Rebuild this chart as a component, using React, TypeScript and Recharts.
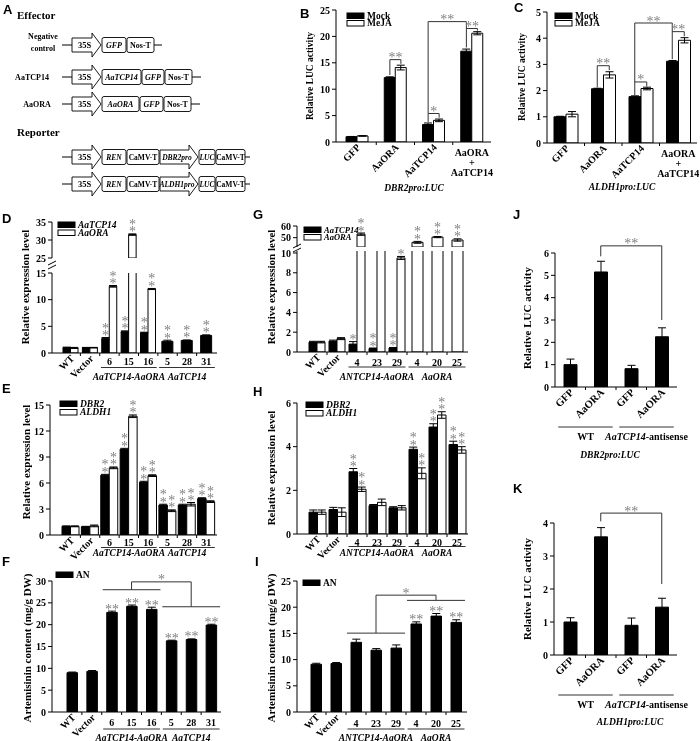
import React from 'react';
import { BarChart, Bar, XAxis, YAxis, ErrorBar, LabelList, ReferenceLine } from 'recharts';

const SERIF = '"Liberation Serif", "Times New Roman", serif';
const SANS = '"Liberation Sans", Arial, sans-serif';
const STAR = '#808080';
const LINE = '#333';

// B / C : transient LUC assays
const luCats = ['GFP', 'AaORA', 'AaTCP14', 'AaORA+AaTCP14'];
const bMock = [1.0, 12.2, 3.3, 17.2];
const bMockErr = [0.05, 0.15, 0.3, 0.4];
const bMeja = [1.15, 14.1, 4.1, 20.6];
const bMejaErr = [0.05, 0.45, 0.25, 0.3];
const cMock = [1.0, 2.07, 1.77, 3.12];
const cMockErr = [0.02, 0.02, 0.03, 0.03];
const cMeja = [1.1, 2.6, 2.08, 3.92];
const cMejaErr = [0.1, 0.12, 0.05, 0.1];

// D / E / F : overexpression lines
const ovCats = ['WT', 'Vector', '6', '15', '16', '5', '28', '31'];
const dTcp = [1.0, 1.0, 2.7, 4.0, 3.8, null, null, null];
const dTcpErr = [0.1, 0.05, 0.2, 0.15, 0.1, null, null, null];
const dOra = [0.95, 1.0, 12.5, 31.5, 12.0, null, null, null];
const dOraErr = [0.1, 0.05, 0.15, 0.2, 0.1, null, null, null];
const dTcpOnly = [null, null, null, null, null, 2.2, 2.35, 3.3];
const dTcpOnlyErr = [null, null, null, null, null, 0.2, 0.1, 0.1];
const dPairStars = ['', '', '**', '**', '**', '', '', ''];
const dOnlyStars = ['', '', '', '', '', '**', '**', '**'];

const eDbr2 = [1.0, 0.95, 6.9, 9.9, 6.1, 3.45, 3.45, 4.2];
const eDbr2Err = [0.05, 0.05, 0.1, 0.1, 0.1, 0.1, 0.1, 0.1];
const eAldh1 = [1.0, 1.05, 7.75, 13.7, 6.85, 2.8, 3.55, 3.85];
const eAldh1Err = [0.05, 0.1, 0.1, 0.15, 0.1, 0.1, 0.2, 0.1];
const eStars = ['', '', '**', '**', '**', '**', '**', '**'];

const fAn = [9.0, 9.3, 22.8, 24.2, 23.5, 16.3, 16.6, 19.9];
const fAnErr = [0.15, 0.2, 0.3, 0.3, 0.5, 0.15, 0.15, 0.2];
const fStars = ['', '', '**', '**', '**', '**', '**', '**'];

// G / H / I : antisense lines
const asCats = ['WT', 'Vector', '4', '23', '29', '4', '20', '25'];
const gTcp = [1.0, 1.1, 0.8, 0.35, 0.4, null, null, null];
const gTcpErr = [0.08, 0.1, 0.25, 0.05, 0.05, null, null, null];
const gTcpStars = ['', '', '*', '**', '**', '', '', ''];
const gOra = [1.0, 1.35, 53, 10.4, 9.5, null, null, null];
const gOraErr = [0.08, 0.1, 1.0, 0.3, 0.15, null, null, null];
const gOraStars = ['', '', '**', '**', '*', '', '', ''];
const gOraOnly = [null, null, null, null, null, 46, 50.5, 48];
const gOraOnlyErr = [null, null, null, null, null, 0.8, 0.5, 1.0];
const gOnlyStars = ['', '', '', '', '', '**', '**', '**'];

const hDbr2 = [1.0, 1.12, 2.85, 1.3, 1.2, 3.88, 4.9, 4.1];
const hDbr2Err = [0.1, 0.1, 0.15, 0.05, 0.05, 0.1, 0.15, 0.15];
const hAldh1 = [1.0, 1.0, 2.05, 1.45, 1.2, 2.78, 5.45, 3.85];
const hAldh1Err = [0.1, 0.2, 0.1, 0.15, 0.1, 0.25, 0.15, 0.15];
const hStars = ['', '', '**', '', '', '**', '**', '**'];

const iAn = [9.1, 9.25, 13.3, 11.8, 12.2, 16.8, 18.3, 17.1];
const iAnErr = [0.2, 0.2, 0.6, 0.3, 0.6, 0.4, 0.5, 0.5];
const iStars = ['', '', '', '', '', '**', '**', '**'];

// J / K : antisense LUC assays
const antiCats = ['GFP', 'AaORA', 'GFP', 'AaORA'];
const jLuc = [1.0, 5.15, 0.82, 2.25];
const jLucErr = [0.25, 0.48, 0.15, 0.4];
const kLuc = [1.0, 3.58, 0.9, 1.45];
const kLucErr = [0.13, 0.28, 0.22, 0.27];

type Num = number | null;
type Ser = { key: string; vals: Num[]; errs?: Num[]; stars?: string[]; fill: string; size: number; solo?: boolean; starMode?: 'v' | 'h' };
type Grp = { a: number; b: number; label: React.ReactNode };
// segment between two categories; da/db shift the ends sideways onto a bar of the pair
type Seg = { a: number; da: number; ya: number; b: number; db: number; yb: number; star?: string };

const br = (a: number, da: number, ya: number, b: number, db: number, yb: number, top: number, star: string): Seg[] => [
  { a, da, ya, b: a, db: da, yb: top },
  { a, da, ya: top, b, db, yb: top, star },
  { a: b, da: db, ya: top, b, db, yb },
];
const hline = (a: number, b: number, y: number, ext: number): Seg => ({ a, da: -ext, ya: y, b, db: ext, yb: y });

const makeTick = (cats: string[], numDy: number, fs: number) => (props: any) => {
  const { x, y, payload } = props;
  const i = Number(String(payload.value).slice(1));
  const lab = cats[i] ?? '';
  const st = { fontFamily: SERIF, fontWeight: 700, fontSize: fs, fill: '#000' };
  if (lab.includes('+')) {
    const [a, b] = lab.split('+');
    return (
      <text x={x} y={y} textAnchor="middle" {...st}>
        <tspan x={x} dy={14}>{a}</tspan>
        <tspan x={x} dy={10}>+</tspan>
        <tspan x={x} dy={10}>{b}</tspan>
      </text>
    );
  }
  if (/^\d+$/.test(lab)) return <text x={x} y={y + numDy} textAnchor="middle" {...st}>{lab}</text>;
  const ax = x + 4, ay = y + 6;
  return <text x={ax} y={ay} textAnchor="end" transform={`rotate(-45 ${ax} ${ay})`} {...st}>{lab}</text>;
};

const starContent = (ppu: number, mode: 'v' | 'h') => (props: any) => {
  const val = props.value;
  if (!val || typeof val !== 'string') return null;
  const vb = props.viewBox || {};
  const x = Number(vb.x ?? props.x), y = Number(vb.y ?? props.y), w = Number(vb.width ?? props.width);
  if (!isFinite(x) || !isFinite(y)) return null;
  const [st, es] = val.split('|');
  const top = y - Number(es) * ppu - 1.5;
  const cx = x + w / 2;
  const f = { fontFamily: SERIF, fontSize: 14, fill: STAR, textAnchor: 'middle' as const };
  if (mode === 'h') return <text x={cx} y={top + 4} {...f}>{st}</text>;
  return (
    <g>
      {st.split('').map((c, k) => <text key={k} x={cx} y={top + 4 - k * 7.5} {...f}>{c}</text>)}
    </g>
  );
};

const segLabel = (t: string, dx: number) => (props: any) => {
  const vb = props.viewBox || {};
  const cx = Number(vb.x) + Number(vb.width || 0) / 2 + dx;
  return <text x={cx} y={Number(vb.y) + 2.5} textAnchor="middle" fontFamily={SERIF} fontSize={14} fill={STAR}>{t}</text>;
};

const groupLabel = (label: React.ReactNode, dy: number, fs: number) => (props: any) => {
  const vb = props.viewBox || {};
  const cx = Number(vb.x) + Number(vb.width || 0) / 2;
  return <text x={cx} y={Number(vb.y) + dy} textAnchor="middle" fontFamily={SERIF} fontWeight={700} fontSize={fs} fill="#000">{label}</text>;
};

const shifted = (da: number, db: number, stroke = LINE) => (sp: any) => (
  <line x1={Number(sp.x1) + da} y1={sp.y1} x2={Number(sp.x2) + db} y2={sp.y2} stroke={stroke} strokeWidth={1} />
);

type PanelProps = {
  x0: number; y0: number; x1: number; y1: number;
  padL: number; padR: number; padT: number; padB: number;
  bandL: number; bandR: number;
  cats: string[]; series: Ser[]; domain: [number, number]; ticks: number[];
  showX?: boolean; numDy?: number; rotFs?: number;
  groups?: Grp[]; gLine?: number; gText?: number; gFs?: number; gExt?: number;
  segs?: Seg[];
};

function Panel(p: PanelProps) {
  const showX = p.showX !== false;
  const [lo, hi] = p.domain;
  const ppu = (p.y1 - p.y0) / (hi - lo);
  const W = p.x1 - p.x0 + p.padL + p.padR;
  const H = p.y1 - p.y0 + p.padT + p.padB;
  const rows = p.cats.map((_, i) => {
    const r: Record<string, any> = { name: 'k' + i };
    p.series.forEach((s) => {
      const v = s.vals[i];
      const inside = v != null && v > lo;
      const shown = inside && (v as number) <= hi;
      const e = s.errs ? s.errs[i] : null;
      const st = s.stars ? s.stars[i] : '';
      r[s.key] = inside ? v : null;
      r[s.key + 'E'] = shown && e != null ? e : null;
      r[s.key + 'L'] = shown && st ? `${st}|${e ?? 0}` : null;
    });
    return r;
  });
  const minor = p.ticks.slice(1).map((t, k) => (t + p.ticks[k]) / 2);
  const pad = { left: p.bandL, right: p.bandR };
  const gy = lo - (p.gLine ?? 14) / ppu;
  const ext = p.gExt ?? 8.5;
  const bounds = showX ? p.cats.slice(1).map((_, k) => k + 1) : [];
  return (
    <div style={{ position: 'absolute', left: p.x0 - p.padL, top: p.y0 - p.padT }}>
      <BarChart width={W} height={H} data={rows} barGap={0} barCategoryGap={0}
        margin={{ top: p.padT, right: p.padR, left: 0, bottom: showX ? 0 : p.padB }}>
        <XAxis xAxisId="c" dataKey="name" hide={!showX} height={p.padB} interval={0} padding={pad}
          axisLine={{ stroke: '#000', strokeWidth: 1 }} tickLine={false} tickSize={0} tickMargin={0}
          tick={makeTick(p.cats, p.numDy ?? 12, p.rotFs ?? 10)} />
        <XAxis xAxisId="s" dataKey="name" hide padding={pad} />
        <YAxis yAxisId="m" width={0} domain={p.domain} ticks={minor} allowDataOverflow interval={0}
          axisLine={false} tickLine={{ stroke: '#000' }} tickSize={2.5} tick={false} />
        <YAxis width={p.padL} domain={p.domain} ticks={p.ticks} allowDataOverflow interval={0}
          axisLine={{ stroke: '#000', strokeWidth: 1 }} tickLine={{ stroke: '#000' }} tickSize={4} tickMargin={2}
          tick={{ fontFamily: SERIF, fontWeight: 700, fontSize: 10, fill: '#000' }} />
        {p.series.map((s) => (
          <Bar key={s.key} xAxisId={s.solo ? 's' : 'c'} dataKey={s.key} fill={s.fill} stroke="#000" strokeWidth={1}
            barSize={s.size} isAnimationActive={false}>
            <ErrorBar dataKey={s.key + 'E'} width={4} stroke="#000" strokeWidth={1} direction="y" />
            <LabelList dataKey={s.key + 'L'} content={starContent(ppu, s.starMode ?? 'v')} />
          </Bar>
        ))}
        {bounds.map((i) => (
          <ReferenceLine key={'t' + i} xAxisId="c" position="start" ifOverflow="visible"
            segment={[{ x: 'k' + i, y: lo }, { x: 'k' + i, y: lo - 3 / ppu }]}
            shape={shifted(0, 0, '#000')} />
        ))}
        {(p.groups ?? []).map((g, k) => (
          <ReferenceLine key={'g' + k} xAxisId="c" position="middle" ifOverflow="visible"
            segment={[{ x: 'k' + g.a, y: gy }, { x: 'k' + g.b, y: gy }]}
            shape={shifted(-ext, ext)}
            label={groupLabel(g.label, p.gText ?? 12, p.gFs ?? 9.5)} />
        ))}
        {(p.segs ?? []).map((s, k) => (
          <ReferenceLine key={'s' + k} xAxisId="c" position="middle" ifOverflow="visible"
            segment={[{ x: 'k' + s.a, y: s.ya }, { x: 'k' + s.b, y: s.yb }]}
            shape={shifted(s.da, s.db)}
            label={s.star ? segLabel(s.star, (s.da + s.db) / 2) : undefined} />
        ))}
      </BarChart>
    </div>
  );
}

const it = (s: string) => <tspan fontStyle="italic">{s}</tspan>;

function Diagram() {
  type Part = { w: number; t: string; i?: boolean; arrow?: boolean; fs?: number };
  const row = (y: number, parts: Part[], tail: number) => {
    let x = 72;
    const els: React.ReactNode[] = [<line key="l0" x1={62} y1={y} x2={72} y2={y} stroke="#000" />];
    parts.forEach((pt, k) => {
      const f = { fontFamily: SERIF, fontWeight: 700, fontSize: pt.fs ?? 8, fill: '#000', fontStyle: pt.i ? 'italic' : 'normal' };
      if (pt.arrow) {
        const b = x + pt.w - 9;
        els.push(<polygon key={'p' + k} points={`${x},${y - 7} ${b},${y - 7} ${b},${y - 12} ${x + pt.w},${y} ${b},${y + 12} ${b},${y + 7} ${x},${y + 7}`} fill="#fff" stroke="#000" strokeWidth={0.9} />);
        els.push(<text key={'t' + k} x={x + pt.w / 2 - 2} y={y + 3} textAnchor="middle" {...f}>{pt.t}</text>);
      } else {
        els.push(<rect key={'r' + k} x={x} y={y - 7.5} width={pt.w} height={15} rx={2} fill="#fff" stroke="#000" strokeWidth={0.9} />);
        els.push(<text key={'t' + k} x={x + pt.w / 2} y={y + 3} textAnchor="middle" {...f}>{pt.t}</text>);
      }
      x += pt.w + 1;
    });
    els.push(<line key="l1" x1={x - 1} y1={y} x2={x - 1 + tail} y2={y} stroke="#000" />);
    return <g>{els}</g>;
  };
  const lab = { fontFamily: SERIF, fontWeight: 700, fontSize: 8, fill: '#000' };
  const p35 = { w: 29, t: '35S', arrow: true, fs: 8.5 };
  const rep = (pro: string) => [p35, { w: 24, t: 'REN', i: true, fs: 7.5 }, { w: 32, t: 'CaMV-T', fs: 7.5 },
    { w: 38, t: pro, i: true, arrow: true, fs: 7.5 }, { w: 16, t: 'LUC', i: true, fs: 7.5 }, { w: 29, t: 'CaMV-T', fs: 7.5 }];
  return (
    <g>
      <text x={17} y={19} fontFamily={SERIF} fontWeight={700} fontSize={11}>Effector</text>
      <text x={43} y={39} textAnchor="middle" {...lab}>Negative</text>
      <text x={43} y={51} textAnchor="middle" {...lab}>control</text>
      {row(45, [p35, { w: 24, t: 'GFP', i: true }, { w: 27, t: 'Nos-T' }], 8)}
      <text x={32} y={80} textAnchor="middle" {...lab}>AaTCP14</text>
      {row(77, [p35, { w: 39, t: 'AaTCP14', i: true }, { w: 22, t: 'GFP', i: true }, { w: 27, t: 'Nos-T' }], 9)}
      <text x={37} y={107} textAnchor="middle" {...lab}>AaORA</text>
      {row(104, [p35, { w: 37, t: 'AaORA', i: true }, { w: 23, t: 'GFP', i: true }, { w: 27, t: 'Nos-T' }], 9)}
      <text x={17} y={136} fontFamily={SERIF} fontWeight={700} fontSize={11}>Reporter</text>
      {row(157, rep('DBR2pro'), 5)}
      {row(184, rep('ALDH1pro'), 5)}
    </g>
  );
}

function Overlay() {
  const letter = (x: number, y: number, t: string) => (
    <text x={x} y={y} fontFamily={SANS} fontWeight={700} fontSize={13} fill="#000">{t}</text>
  );
  const vt = (x: number, y: number, t: string, fs: number) => (
    <text x={x} y={y} transform={`rotate(-90 ${x} ${y})`} textAnchor="middle" dominantBaseline="central"
      fontFamily={SERIF} fontWeight={700} fontSize={fs} fill="#000">{t}</text>
  );
  const leg = (x: number, y: number, fill: string, t: string, ital: boolean, fs = 9.5) => (
    <g>
      <rect x={x} y={y} width={17} height={5.5} fill={fill} stroke="#000" strokeWidth={1} />
      <text x={x + 20} y={y + 5.5} fontFamily={SERIF} fontWeight={700} fontStyle={ital ? 'italic' : 'normal'} fontSize={fs} fill="#000">{t}</text>
    </g>
  );
  const cap = (x: number, y: number, t: string) => (
    <text x={x} y={y} textAnchor="middle" fontFamily={SERIF} fontWeight={700} fontStyle="italic" fontSize={9.5} fill="#000">{t}</text>
  );
  const brk = (x: number, y: number) => (
    <g>
      <line x1={x - 4} y1={y - 1} x2={x + 4} y2={y - 5} stroke="#000" />
      <line x1={x - 4} y1={y + 3} x2={x + 4} y2={y - 1} stroke="#000" />
    </g>
  );
  return (
    <svg width={700} height={741} style={{ position: 'absolute', left: 0, top: 0, pointerEvents: 'none' }}>
      <Diagram />
      {letter(3, 14, 'A')}
      {letter(300, 18, 'B')}
      {letter(514, 12, 'C')}
      {letter(2, 223, 'D')}
      {letter(253, 219, 'G')}
      {letter(513, 219, 'J')}
      {letter(2, 393, 'E')}
      {letter(253, 396, 'H')}
      {letter(513, 493, 'K')}
      {letter(2, 566, 'F')}
      {letter(255, 566, 'I')}
      {vt(310, 76, 'Relative LUC activity', 9.5)}
      {vt(522, 77, 'Relative LUC activity', 9.5)}
      {vt(25, 287, 'Relative expression level', 11)}
      {vt(26, 462, 'Relative expression level', 11)}
      {vt(27, 648, 'Artemisinin content (mg/g DW)', 11)}
      {vt(271, 287, 'Relative expression level', 11)}
      {vt(271, 468, 'Relative expression level', 11)}
      {vt(271, 648, 'Artemisinin content (mg/g DW)', 11)}
      {vt(527, 318, 'Relative LUC activity', 11)}
      {vt(527, 589, 'Relative LUC activity', 11)}
      {leg(347, 13, '#000', 'Mock', false)}
      {leg(347, 20.5, '#fff', 'MeJA', false)}
      {leg(555, 13, '#000', 'Mock', false)}
      {leg(555, 20.5, '#fff', 'MeJA', false)}
      {leg(58, 222, '#000', 'AaTCP14', true)}
      {leg(58, 230, '#fff', 'AaORA', true)}
      {leg(60, 401, '#000', 'DBR2', true)}
      {leg(60, 409.5, '#fff', 'ALDH1', true)}
      {leg(56, 572, '#000', 'AN', false)}
      {leg(304, 227, '#000', 'AaTCP14', true, 8.5)}
      {leg(304, 234.5, '#fff', 'AaORA', true, 8.5)}
      {leg(306, 402, '#000', 'DBR2', true)}
      {leg(306, 410.5, '#fff', 'ALDH1', true)}
      {leg(303, 580, '#000', 'AN', false)}
      {cap(414, 191, 'DBR2pro:LUC')}
      {cap(622, 190, 'ALDH1pro:LUC')}
      {cap(610, 458, 'DBR2pro:LUC')}
      {cap(630, 725, 'ALDH1pro:LUC')}
      {brk(52, 266)}
      {brk(297, 249)}
    </svg>
  );
}

const ovGroups: Grp[] = [
  { a: 2, b: 4, label: it('AaTCP14-AaORA') },
  { a: 5, b: 7, label: it('AaTCP14') },
];
const asGroups: Grp[] = [
  { a: 2, b: 4, label: it('ANTCP14-AaORA') },
  { a: 5, b: 7, label: it('AaORA') },
];
const antiGroups: Grp[] = [
  { a: 0, b: 1, label: 'WT' },
  { a: 2, b: 3, label: <>{it('AaTCP14')}-antisense</> },
];

const dSeries: Ser[] = [
  { key: 'tcp', vals: dTcp, errs: dTcpErr, stars: dPairStars, fill: '#000', size: 7.5 },
  { key: 'ora', vals: dOra, errs: dOraErr, stars: dPairStars, fill: '#fff', size: 7.5 },
  { key: 'only', vals: dTcpOnly, errs: dTcpOnlyErr, stars: dOnlyStars, fill: '#000', size: 11, solo: true },
];
const gSeries: Ser[] = [
  { key: 'tcp', vals: gTcp, errs: gTcpErr, stars: gTcpStars, fill: '#000', size: 8 },
  { key: 'ora', vals: gOra, errs: gOraErr, stars: gOraStars, fill: '#fff', size: 8 },
  { key: 'only', vals: gOraOnly, errs: gOraOnlyErr, stars: gOnlyStars, fill: '#fff', size: 11, solo: true },
];

export default function App() {
  return (
    <div style={{ position: 'absolute', left: 0, top: 0, width: 700, height: 741, background: '#fff', overflow: 'hidden', filter: 'grayscale(1)' }}>
      {/* B */}
      <Panel x0={336} y0={10} x1={491} y1={142} padL={24} padR={6} padT={10} padB={48} bandL={2} bandR={0}
        cats={luCats} domain={[0, 25]} ticks={[0, 5, 10, 15, 20, 25]}
        series={[
          { key: 'mock', vals: bMock, errs: bMockErr, fill: '#000', size: 11 },
          { key: 'meja', vals: bMeja, errs: bMejaErr, fill: '#fff', size: 11 },
        ]}
        segs={[...br(1, -5.5, 12.7, 1, 5.5, 14.8, 15.6, '**'), ...br(2, -5.5, 3.8, 2, 5.5, 4.6, 5.4, '*'),
          ...br(2, -5.5, 5.4, 3, -5.5, 17.9, 22.8, '**'), ...br(3, -5.5, 21.5, 3, 5.5, 21.1, 21.5, '**')]} />
      {/* C */}
      <Panel x0={547} y0={12} x1={697} y1={143} padL={20} padR={3} padT={10} padB={48} bandL={0} bandR={0}
        cats={luCats} domain={[0, 5]} ticks={[0, 1, 2, 3, 4, 5]}
        series={[
          { key: 'mock', vals: cMock, errs: cMockErr, fill: '#000', size: 12 },
          { key: 'meja', vals: cMeja, errs: cMejaErr, fill: '#fff', size: 12 },
        ]}
        segs={[...br(1, -6, 2.12, 1, 6, 2.78, 2.95, '**'), ...br(2, -6, 1.82, 2, 6, 2.16, 2.33, '*'),
          ...br(2, -6, 2.33, 3, -6, 3.2, 4.58, '**'), ...br(3, -6, 4.25, 3, 6, 4.07, 4.25, '**')]} />
      {/* D lower */}
      <Panel x0={52} y0={273} x1={217} y1={353} padL={20} padR={2} padT={22} padB={40} bandL={9} bandR={1}
        cats={ovCats} domain={[0, 15]} ticks={[0, 5, 10, 15]} numDy={12} groups={ovGroups} gLine={14.5} gText={12.5}
        series={dSeries} />
      {/* D upper */}
      <Panel x0={52} y0={222} x1={217} y1={258} padL={20} padR={2} padT={16} padB={6} bandL={9} bandR={1}
        cats={ovCats} domain={[25, 35]} ticks={[25, 30, 35]} showX={false} series={dSeries} />
      {/* E */}
      <Panel x0={50} y0={405} x1={217} y1={535} padL={20} padR={2} padT={20} padB={26} bandL={11} bandR={1}
        cats={ovCats} domain={[0, 15]} ticks={[0, 3, 6, 9, 12, 15]} numDy={10.5} groups={ovGroups} gLine={12.5} gText={8}
        series={[
          { key: 'dbr', vals: eDbr2, errs: eDbr2Err, stars: eStars, fill: '#000', size: 8.5 },
          { key: 'ald', vals: eAldh1, errs: eAldh1Err, stars: eStars, fill: '#fff', size: 8.5 },
        ]} />
      {/* F */}
      <Panel x0={52} y0={581} x1={221} y1={712} padL={20} padR={2} padT={20} padB={29} bandL={10} bandR={0}
        cats={ovCats} domain={[0, 30]} ticks={[0, 5, 10, 15, 20, 25, 30]} numDy={13.5} groups={ovGroups} gLine={17} gText={11.5}
        series={[{ key: 'an', vals: fAn, errs: fAnErr, stars: fStars, fill: '#000', size: 10.5, starMode: 'h' }]}
        segs={[hline(2, 4, 28, 9), ...br(3, 0, 28, 6, 0, 24.1, 29.8, '*'), hline(5, 7, 24.1, 9)]} />
      {/* G lower */}
      <Panel x0={297} y0={251} x1={468} y1={352} padL={20} padR={2} padT={26} padB={32} bandL={10} bandR={1}
        cats={asCats} domain={[0, 10.2]} ticks={[0, 2, 4, 6, 8, 10]} numDy={13.5} groups={asGroups} gLine={15} gText={12.5}
        series={gSeries} />
      {/* G upper */}
      <Panel x0={297} y0={226} x1={468} y1={247} padL={20} padR={2} padT={16} padB={4} bandL={10} bandR={1}
        cats={asCats} domain={[42, 60]} ticks={[50, 60]} showX={false} series={gSeries} />
      {/* H */}
      <Panel x0={297} y0={403} x1={468} y1={534} padL={20} padR={2} padT={20} padB={26} bandL={10} bandR={1}
        cats={asCats} domain={[0, 6]} ticks={[0, 2, 4, 6]} numDy={11.5} groups={asGroups} gLine={12.5} gText={9}
        series={[
          { key: 'dbr', vals: hDbr2, errs: hDbr2Err, stars: hStars, fill: '#000', size: 8.5 },
          { key: 'ald', vals: hAldh1, errs: hAldh1Err, stars: hStars, fill: '#fff', size: 8.5 },
        ]} />
      {/* I */}
      <Panel x0={297} y0={581} x1={467} y1={712} padL={20} padR={2} padT={20} padB={29} bandL={9} bandR={1}
        cats={asCats} domain={[0, 25]} ticks={[0, 5, 10, 15, 20, 25]} numDy={14.5} groups={asGroups} gLine={17} gText={11.5}
        series={[{ key: 'an', vals: iAn, errs: iAnErr, stars: iStars, fill: '#000', size: 10.5, starMode: 'h' }]}
        segs={[hline(2, 4, 15.05, 9), ...br(3, 0, 15.05, 6, 0, 21.3, 22.3, '*'), hline(5, 7, 21.3, 9)]} />
      {/* J */}
      <Panel x0={555} y0={253} x1={677} y1={387} padL={18} padR={20} padT={18} padB={60} bandL={0} bandR={0}
        cats={antiCats} domain={[0, 6]} ticks={[0, 1, 2, 3, 4, 5, 6]} rotFs={10.5}
        groups={antiGroups} gLine={40} gText={12.5} gFs={10} gExt={12}
        series={[{ key: 'luc', vals: jLuc, errs: jLucErr, fill: '#000', size: 13 }]}
        segs={br(1, 0, 5.85, 3, 0, 3.0, 6.32, '**')} />
      {/* K */}
      <Panel x0={554} y0={523} x1={677} y1={655} padL={18} padR={20} padT={20} padB={60} bandL={1} bandR={0}
        cats={antiCats} domain={[0, 4]} ticks={[0, 1, 2, 3, 4]} rotFs={10.5}
        groups={antiGroups} gLine={40} gText={12.5} gFs={10} gExt={12}
        series={[{ key: 'luc', vals: kLuc, errs: kLucErr, fill: '#000', size: 13 }]}
        segs={br(1, 0, 4.05, 3, 0, 2.15, 4.3, '**')} />
      <Overlay />
    </div>
  );
}
